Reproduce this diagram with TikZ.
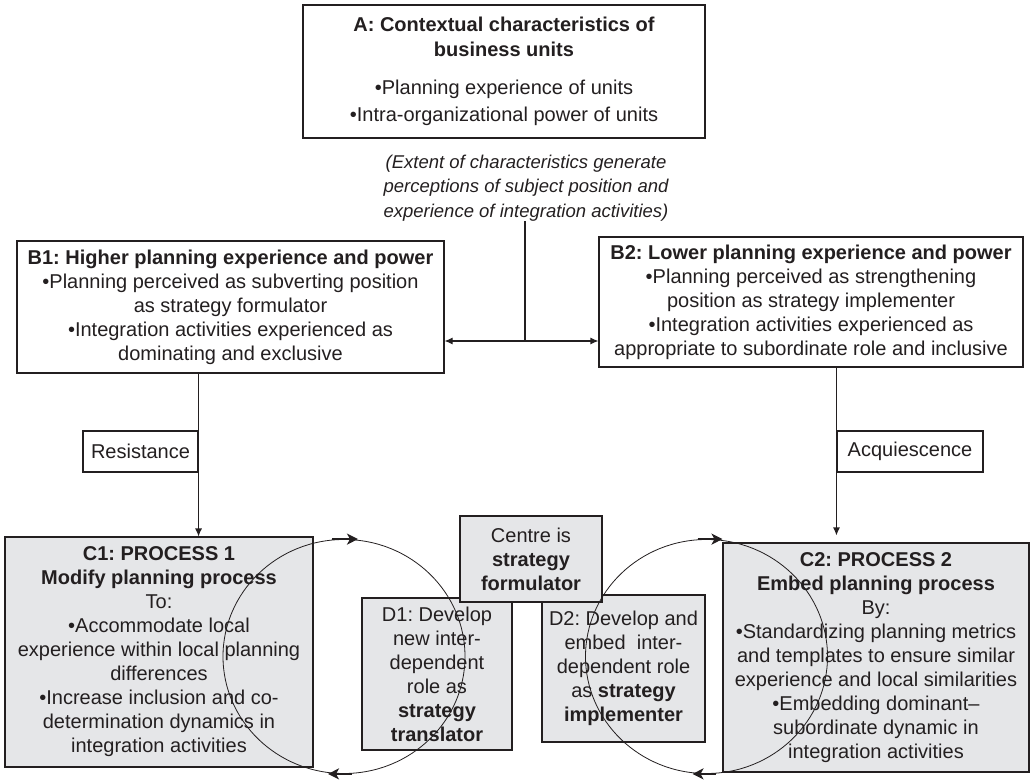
\documentclass[tikz,border=0pt]{standalone}
\usepackage{fontspec}
\setmainfont{Liberation Sans}
\usetikzlibrary{arrows.meta,shapes.geometric}
\definecolor{ink}{RGB}{35,31,32}
\definecolor{boxfill}{RGB}{229,230,232}
\tikzset{
  base/.style={draw=ink, line width=1.1pt, text=ink, align=center, inner sep=0pt,
    font=\fontsize{20}{24}\selectfont},
  wbox/.style={base, fill=white},
  gbox/.style={base, fill=boxfill},
  conn/.style={draw=ink, line width=1.1pt, -{Latex[length=8pt,width=7pt]}},
  dconn/.style={draw=ink, line width=1.1pt, {Latex[length=8pt,width=7pt]}-{Latex[length=8pt,width=7pt]}},
  plain/.style={draw=ink, line width=1.1pt},
  cyc/.style={ellipse, draw=ink, line width=0.8pt, inner sep=0pt, minimum width=242pt, minimum height=234pt},
  cycarrow/.style={draw=ink, line width=2.4pt, -{Stealth[length=11pt,width=11pt,inset=3pt]}},
}
\frenchspacing
\begin{document}
\begin{tikzpicture}[x=1pt,y=-1pt]
\useasboundingbox (0,0) rectangle (1031,783);

% top box A
\node[wbox, minimum width=402pt, minimum height=133pt] (A) at (504,71.5)
  {\textbf{A: Contextual characteristics of}\\[1pt]
   \textbf{business units}\\[14pt]
   \textbullet Planning experience of units\\[3pt]
   \textbullet Intra-organizational power of units};

% italic note
\node[text=ink, align=center, inner sep=0pt, font=\fontsize{18.5}{24.5}\selectfont\itshape] (E) at (526,188)
  {(Extent of characteristics generate\\
   perceptions of subject position and\\
   experience of integration activities)};

% B boxes
\node[wbox, minimum width=427pt, minimum height=132pt] (B1) at (230.5,307)
  {\textbf{B1: Higher planning experience and power}\\
   \textbullet Planning perceived as subverting position\\
   as strategy formulator\\
   \textbullet Integration activities experienced as\\
   dominating and exclusive};
\node[wbox, minimum width=424pt, minimum height=130pt] (B2) at (811,302)
  {\textbf{B2: Lower planning experience and power}\\
   \textbullet Planning perceived as strengthening\\
   position as strategy implementer\\
   \textbullet Integration activities experienced as\\
   appropriate to subordinate role and inclusive};

% labels on connectors
\node[wbox, minimum width=115pt, minimum height=41pt] (R) at (140.5,451.5) {Resistance};
\node[wbox, minimum width=146pt, minimum height=41pt] (Q) at (910,451.5) {Acquiescence};

% C boxes
\node[gbox, minimum width=308pt, minimum height=230pt] (C1) at (159,652)
  {\textbf{C1: PROCESS 1}\\
   \textbf{Modify planning process}\\
   To:\\
   \textbullet Accommodate local\\
   experience within local planning\\
   differences\\
   \textbullet Increase inclusion and co-\\
   determination dynamics in\\
   integration activities};
\node[gbox, minimum width=306pt, minimum height=229pt] (C2) at (876,657.5)
  {\textbf{C2: PROCESS 2}\\
   \textbf{Embed planning process}\\
   By:\\
   \textbullet Standardizing planning metrics\\
   and templates to ensure similar\\
   experience and local similarities\\
   \textbullet Embedding dominant--\\
   subordinate dynamic in\\
   integration activities};

% D boxes
\node[gbox, minimum width=150pt, minimum height=152pt] (D1) at (437,674)
  {D1: Develop\\ new inter-\\ dependent\\ role as\\ \textbf{strategy}\\ \textbf{translator}};
\node[gbox, minimum width=163pt, minimum height=147pt] (D2) at (623.5,668.5)
  {D2: Develop and\\ embed\ \ inter-\\ dependent role\\ as \textbf{strategy}\\ \textbf{implementer}};

% centre box
\node[gbox, minimum width=142pt, minimum height=86pt] (CT) at (531,559)
  {Centre is\\ \textbf{strategy}\\ \textbf{formulator}};

% cycles
\node[cyc] (L) at (344,656.5) {};
\node[cyc] (RC) at (706.5,656.5) {};
\draw[cycarrow] ([xshift=-12pt]L.north) -- ([xshift=14pt]L.north);
\draw[cycarrow] ([xshift=8pt]L.south) -- ([xshift=-16pt]L.south);
\draw[cycarrow] ([xshift=-9pt]RC.north) -- ([xshift=16pt]RC.north);
\draw[cycarrow] ([xshift=9pt]RC.south) -- ([xshift=-14pt]RC.south);

% connectors
\coordinate (J) at (525,341);
\draw[plain] (E.south -| J) -- (J);
\draw[dconn] (B1.east |- J) -- (B2.west |- J);
\draw[conn] (R.east |- B1.south) -- (R.east |- C1.north);
\draw[conn] (Q.west |- B2.south) -- ([yshift=7pt]Q.west |- C2.north);
\end{tikzpicture}
\end{document}
